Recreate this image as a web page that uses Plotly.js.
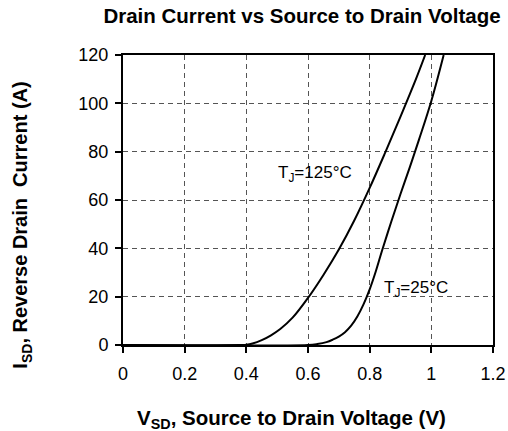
<!DOCTYPE html>
<html>
<head>
<meta charset="utf-8">
<script src="https://cdn.plot.ly/plotly-3.0.1.min.js"></script>
<style>html,body{margin:0;padding:0;background:#fff;}#chart{width:508px;height:431px;}</style>
</head>
<body>
<div id="chart"></div>
<script>
var vsd125 = [0.0, 0.38, 0.40, 0.42, 0.45, 0.48, 0.51, 0.55, 0.60, 0.65, 0.70, 0.75, 0.80, 0.85, 0.90, 0.95, 0.98];
var isd125 = [0, 0, 0.1, 0.6, 2.0, 4.0, 6.6, 11.3, 19.5, 29, 39.5, 51.5, 65, 79.5, 94.5, 110, 120];
var vsd25 = [0.0, 0.60, 0.63, 0.66, 0.68, 0.70, 0.72, 0.74, 0.76, 0.78, 0.80, 0.82, 0.84, 0.87, 0.90, 0.93, 0.96, 1.00, 1.04];
var isd25 = [0, 0, 0.4, 1.2, 2.2, 3.5, 5.3, 8.0, 11.8, 16.8, 23, 30.5, 39, 51, 62.5, 73.5, 85, 101, 120];
var xTicks = [0, 0.2, 0.4, 0.6, 0.8, 1, 1.2];
var yTicks = [0, 20, 40, 60, 80, 100, 120];
var curveLabels = ["T<sub>J</sub>=125°C", "T<sub>J</sub>=25°C"];
var labelPos = [[0.497, 70.7], [0.839, 23.2]];
var chartTitle = "Drain Current vs Source to Drain Voltage";
var xTitle = "V<sub>SD</sub>, Source to Drain Voltage (V)";
var yTitle = "I<sub>SD</sub>, Reverse Drain&nbsp; Current (A)";

var FONT = "Arial, 'Liberation Sans', sans-serif";
var traces = [
  {x: vsd125, y: isd125, mode: 'lines', line: {color: '#000', width: 2, shape: 'spline', smoothing: 1}, hoverinfo: 'skip'},
  {x: vsd25, y: isd25, mode: 'lines', line: {color: '#000', width: 2, shape: 'spline', smoothing: 1}, hoverinfo: 'skip'}
];
var anns = curveLabels.map(function(t, i) {
  return {x: labelPos[i][0], y: labelPos[i][1], xref: 'x', yref: 'y', text: t, showarrow: false,
    xanchor: 'left', yanchor: 'middle', font: {size: 17, family: FONT, color: '#000'}};
});
anns.push({x: 0.455, y: -0.255, xref: 'paper', yref: 'paper', text: '<b>' + xTitle + '</b>', showarrow: false,
  xanchor: 'center', yanchor: 'middle', font: {size: 20.5, family: FONT, color: '#000'}});
anns.push({x: -0.273, y: 0.415, xref: 'paper', yref: 'paper', text: '<b>' + yTitle + '</b>', showarrow: false,
  textangle: -90, xanchor: 'center', yanchor: 'middle', font: {size: 20, family: FONT, color: '#000'}});

var layout = {
  width: 508, height: 431,
  margin: {l: 123, r: 15, t: 55, b: 86},
  paper_bgcolor: '#fff', plot_bgcolor: '#fff',
  showlegend: false,
  font: {family: FONT, color: '#000'},
  title: {text: '<b>' + chartTitle + '</b>', font: {size: 20.5, family: FONT, color: '#000'}, x: 302/508, xanchor: 'center', y: 1 - 16/431, yanchor: 'middle'},
  xaxis: {
    range: [0, 1.2], tickvals: xTicks, ticktext: xTicks.map(String),
    showline: true, linecolor: '#000', linewidth: 2, mirror: true,
    ticks: 'outside', ticklen: 6, tickwidth: 2, tickcolor: '#000',
    showgrid: true, gridcolor: '#555', griddash: '5px,4px', gridwidth: 1,
    zeroline: false, tickfont: {size: 18, family: FONT}, ticklabelstandoff: 5,
    automargin: false
  },
  yaxis: {
    range: [0, 120], tickvals: yTicks,
    showline: true, linecolor: '#000', linewidth: 2, mirror: true,
    ticks: 'outside', ticklen: 6, tickwidth: 2, tickcolor: '#000',
    showgrid: true, gridcolor: '#555', griddash: '5px,4px', gridwidth: 1,
    zeroline: false, tickfont: {size: 18, family: FONT}, ticklabelstandoff: 3,
    automargin: false
  },
  annotations: anns
};
Plotly.newPlot('chart', traces, layout, {staticPlot: true, displayModeBar: false});
</script>
</body>
</html>
